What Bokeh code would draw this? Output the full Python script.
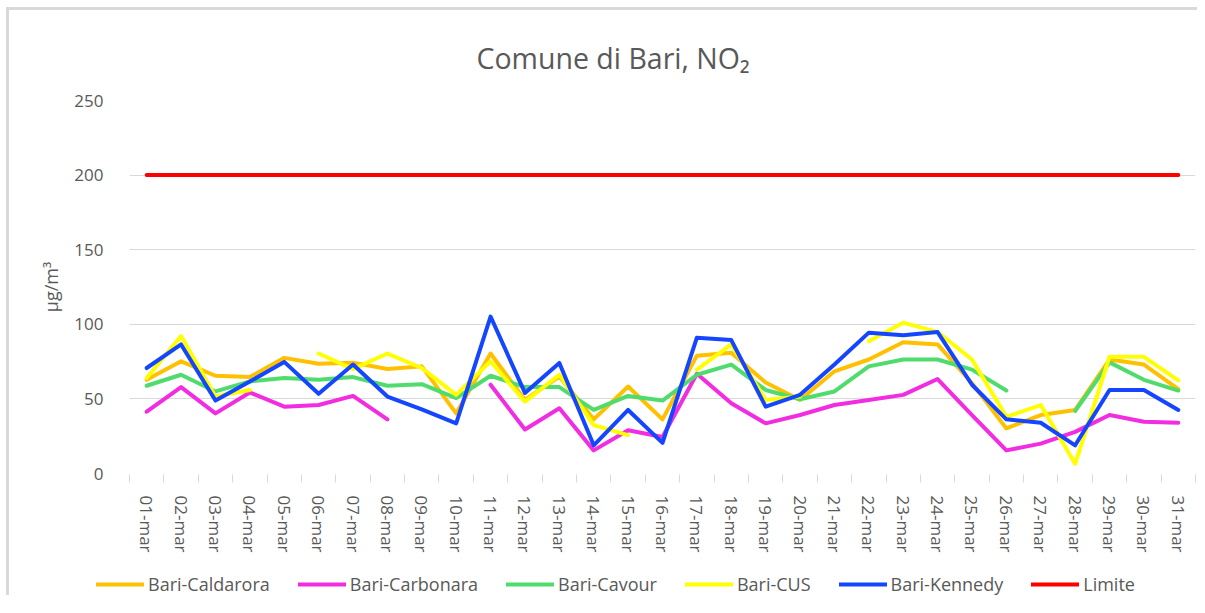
from bokeh.plotting import figure
from bokeh.models import Range1d, FixedTicker, Legend
from bokeh.layouts import column
from bokeh.embed import file_html
from bokeh.resources import INLINE

NaN = float("nan")

days = ["01-mar", "02-mar", "03-mar", "04-mar", "05-mar", "06-mar", "07-mar", "08-mar",
        "09-mar", "10-mar", "11-mar", "12-mar", "13-mar", "14-mar", "15-mar", "16-mar",
        "17-mar", "18-mar", "19-mar", "20-mar", "21-mar", "22-mar", "23-mar", "24-mar",
        "25-mar", "26-mar", "27-mar", "28-mar", "29-mar", "30-mar", "31-mar"]

caldarora = [62.8, 75.2, 65.5, 64.6, 77.5, 73.6, 74.3, 70.0, 71.8, 40.3, 80.4, 49.3, 65.0, 36.3, 58.3, 36.3,
             79.0, 80.9, 61.0, 49.3, 68.5, 76.4, 88.0, 86.5, 60.6, 30.2, 39.2, 42.6, 76.4, 73.0, 56.5]
carbonara = [41.4, 57.9, 40.3, 54.3, 44.8, 45.9, 52.0, 36.3, NaN, NaN, 59.5, 29.5, 43.7, 15.5, 29.0, 24.5,
             66.9, 47.1, 33.6, 39.2, 45.9, 49.3, 52.7, 63.3, 39.2, 15.5, 20.0, 27.9, 39.2, 34.7, 34.0]
cavour = [58.8, 66.2, 55.0, 61.7, 64.0, 62.8, 64.6, 58.8, 59.9, 50.5, 65.5, 57.9, 57.9, 42.6, 52.0, 48.9,
          66.2, 73.0, 56.0, 49.8, 55.0, 71.8, 76.4, 76.4, 69.6, 55.6, NaN, 41.9, 74.5, 62.8, 55.6]
cus = [64.0, 92.1, 51.6, 56.0, NaN, 80.4, 70.0, 80.4, 70.7, 52.7, 75.2, 48.2, 66.2, 32.4, 25.7, NaN,
       69.6, 86.5, 49.3, 51.6, NaN, 88.7, 101.1, 94.8, 76.4, 38.0, 45.9, 6.5, 78.2, 78.2, 62.4]
kennedy = [70.7, 86.5, 48.9, 61.7, 74.8, 53.4, 73.0, 51.6, 43.0, 33.6, 105.2, 54.0, 74.1, 18.9, 42.6, 20.5,
           91.0, 89.4, 44.8, 52.7, 73.0, 94.4, 92.6, 94.8, 59.5, 36.3, 34.0, 18.9, 56.0, 56.0, 42.6]
limite = [200, 200, 200, 200, 200, 200, 200, 200, 200, 200, 200, 200, 200, 200, 200, 200,
          200, 200, 200, 200, 200, 200, 200, 200, 200, 200, 200, 200, 200, 200, 200]

series_names = ["Bari-Caldarora", "Bari-Carbonara", "Bari-Cavour", "Bari-CUS", "Bari-Kennedy", "Limite"]
series_values = [caldarora, carbonara, cavour, cus, kennedy, limite]
series_colors = ["#FFC000", "#F22CE0", "#50DC6C", "#FFFF00", "#1446FF", "#FF0000"]

y_ticks = [0, 50, 100, 150, 200, 250]

x = list(range(len(days)))

FONT = "Open Sans"
GRAY = "#595959"
GRID = "#d9d9d9"

p = figure(output_backend="svg", toolbar_location=None,
           x_range=Range1d(-0.5, len(days) - 0.5), y_range=Range1d(0, 250),
           frame_width=1063, frame_height=370,
           min_border_left=120, min_border_right=5, min_border_top=90, min_border_bottom=95,
           title="Comune di Bari, NO₂")
p.styles = {"border-top": "3px solid #d9d9d9", "border-left": "3px solid #d9d9d9",
            "margin-top": "7px", "margin-left": "6px"}

p.outline_line_color = None
p.background_fill_color = "white"
p.border_fill_color = "white"

p.title.text_font = FONT
p.title.text_font_size = "28.5px"
p.title.text_font_style = "normal"
p.title.text_color = GRAY
p.title.align = "left"
p.title.offset = 347
p.title.standoff = 48

# y axis
p.yaxis.ticker = FixedTicker(ticks=y_ticks)
p.yaxis.axis_line_color = None
p.yaxis.major_tick_line_color = None
p.yaxis.minor_tick_line_color = None
p.yaxis.major_label_text_font = FONT
p.yaxis.major_label_text_font_size = "17px"
p.yaxis.major_label_text_color = GRAY
p.yaxis.major_label_standoff = 20
p.yaxis.axis_label = "µg/m³"
p.yaxis.axis_label_text_font = FONT
p.yaxis.axis_label_text_font_size = "18px"
p.yaxis.axis_label_text_font_style = "normal"
p.yaxis.axis_label_text_color = GRAY
p.yaxis.axis_label_standoff = 8

p.ygrid.ticker = FixedTicker(ticks=y_ticks[1:])
p.ygrid.grid_line_color = GRID
p.ygrid.grid_line_width = 1
p.xgrid.grid_line_color = None

# x axis
bounds = [i - 0.5 for i in range(len(days) + 1)]
p.xaxis.ticker = FixedTicker(ticks=x, minor_ticks=bounds)
p.xaxis.major_label_overrides = {i: d for i, d in zip(x, days)}
p.xaxis.axis_line_color = None
p.xaxis.major_tick_line_color = None
p.xaxis.major_tick_out = 0
p.xaxis.major_tick_in = 0
p.xaxis.minor_tick_line_color = GRID
p.xaxis.minor_tick_out = 9
p.xaxis.minor_tick_in = -1
p.xaxis.major_label_orientation = "vertical"
p.xaxis.major_label_text_font = FONT
p.xaxis.major_label_text_font_size = "17px"
p.xaxis.major_label_text_color = GRAY
p.xaxis.major_label_standoff = 13

for name, vals, col in zip(series_names, series_values, series_colors):
    p.line(x, vals, line_color=col, line_width=4, line_join="round", line_cap="round")

# legend strip: same series, drawn outside its visible range, only the legend shows
total_w = 120 + 1063 + 5
leg = figure(output_backend="svg", toolbar_location=None,
             x_range=Range1d(-0.5, len(days) - 0.5), y_range=Range1d(1000, 1001),
             frame_width=total_w, frame_height=30,
             min_border_left=0, min_border_right=0, min_border_top=0, min_border_bottom=0,
             x_axis_type=None, y_axis_type=None)
leg.styles = {"border-left": "3px solid #d9d9d9", "margin-left": "6px"}
leg.outline_line_color = None
leg.grid.visible = False
leg.background_fill_color = "white"
leg.border_fill_color = "white"

items = []
for name, vals, col in zip(series_names, series_values, series_colors):
    r = leg.line(x, vals, line_color=col, line_width=4, line_join="round", line_cap="round")
    items.append((name, [r]))

legend = Legend(items=items, orientation="horizontal", location=(87, -1))
legend.label_text_font = FONT
legend.label_text_font_size = "18px"
legend.label_text_color = GRAY
legend.glyph_width = 48
legend.glyph_height = 20
legend.label_height = 20
legend.label_standoff = 4
legend.spacing = 28
legend.padding = 0
legend.margin = 0
legend.border_line_color = None
legend.background_fill_alpha = 0
leg.add_layout(legend, "center")

layout = column(p, leg, spacing=0)
open("out.html", "w").write(file_html(layout, INLINE))
